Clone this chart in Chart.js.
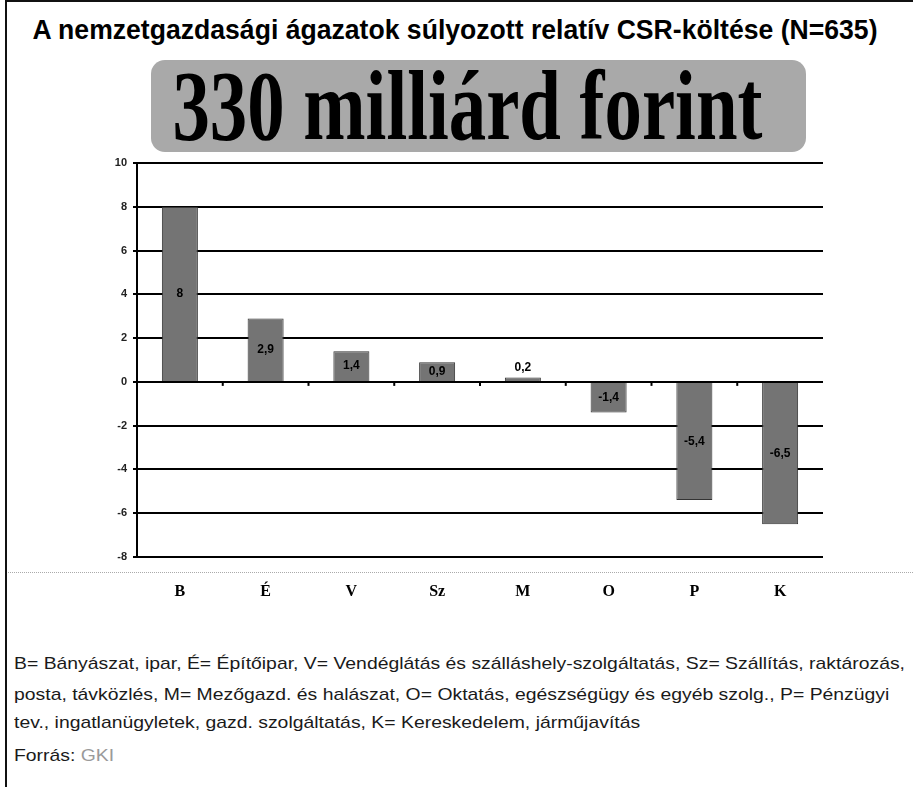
<!DOCTYPE html>
<html>
<head>
<meta charset="utf-8">
<script src="https://cdn.jsdelivr.net/npm/chart.js@4/dist/chart.umd.min.js"></script>
<style>
  html, body { margin:0; padding:0; background:#fff; }
  body { width:913px; height:787px; position:relative; overflow:hidden; font-family:"Liberation Sans", Arial, sans-serif; }
  #frameLeft { position:absolute; left:5px; top:0; width:2px; height:787px; background:#111; }
  #frameTop { position:absolute; left:5px; top:0; width:908px; height:2px; background:#111; }
  #title { position:absolute; left:-1px; top:15px; width:913px; text-align:center; font-weight:bold; font-size:27px; line-height:30px; color:#000; white-space:nowrap; }
  #title span { display:inline-block; transform-origin:center; }
  #banner { position:absolute; left:151px; top:60px; width:655px; height:92px; background:#a9a9a9; border-radius:14px; }
  #bannerText { position:absolute; left:11px; top:60px; width:913px; text-align:center; font-family:"Liberation Serif","Times New Roman",serif; font-weight:bold; font-size:100px; line-height:92px; color:#000; white-space:nowrap; }
  #bannerText span { display:inline-block; transform-origin:center; }
  #chartBox { position:absolute; left:0; top:150px; width:913px; height:470px; }
  #dots { position:absolute; left:8px; top:572px; width:905px; height:0; border-top:1px dotted #aaa; }
  .foot { position:absolute; left:14px; font-size:17px; color:#1a1a1a; white-space:nowrap; transform-origin:left center; }
  .gki { color:#9a9a9a; }
</style>
</head>
<body>
<div id="frameLeft"></div>
<div id="frameTop"></div>
<div id="title"><span id="titleSpan"></span></div>
<div id="banner"></div>
<div id="bannerText"><span id="bannerSpan"></span></div>
<div id="chartBox"><canvas id="c" width="913" height="470"></canvas></div>
<div id="dots"></div>
<div class="foot" id="f1" style="top:654px"></div>
<div class="foot" id="f2" style="top:685px"></div>
<div class="foot" id="f3" style="top:713px"></div>
<div class="foot" id="f4" style="top:746px"></div>
<script>
// ---- data ----
const titleText = "A nemzetgazdasági ágazatok súlyozott relatív CSR-költése (N=635)";
const bannerLabel = "330 milliárd forint";
const categories = ["B", "É", "V", "Sz", "M", "O", "P", "K"];
const values = [8, 2.9, 1.4, 0.9, 0.2, -1.4, -5.4, -6.5];
const valueLabels = ["8", "2,9", "1,4", "0,9", "0,2", "-1,4", "-5,4", "-6,5"];
const yMin = -8;
const yMax = 10;
const yStep = 2;
const footLines = [
  "B= Bányászat, ipar, É= Építőipar, V= Vendéglátás és szálláshely-szolgáltatás, Sz= Szállítás, raktározás,",
  "posta, távközlés, M= Mezőgazd. és halászat, O= Oktatás, egészségügy és egyéb szolg., P= Pénzügyi",
  "tev., ingatlanügyletek, gazd. szolgáltatás, K= Kereskedelem, járműjavítás"
];
const sourceLabel = "Forrás: ";
const sourceName = "GKI";

// ---- text ----
document.getElementById('titleSpan').textContent = titleText;
document.getElementById('bannerSpan').textContent = bannerLabel;
document.getElementById('f1').textContent = footLines[0];
document.getElementById('f2').textContent = footLines[1];
document.getElementById('f3').textContent = footLines[2];
const f4 = document.getElementById('f4');
f4.appendChild(document.createTextNode(sourceLabel));
const g = document.createElement('span'); g.className = 'gki'; g.textContent = sourceName; f4.appendChild(g);

function fitX(el, target) {
  const w = el.getBoundingClientRect().width;
  const s = target / w;
  el.style.transform = 'scaleX(' + s + ')';
  return s;
}
fitX(document.getElementById('titleSpan'), 845);
fitX(document.getElementById('bannerSpan'), 590);
const fs = fitX(document.getElementById('f1'), 891);
['f2','f3','f4'].forEach(id => document.getElementById(id).style.transform = 'scaleX(' + fs + ')');

// ---- chart ----
const labelPlugin = {
  id: 'barLabels',
  afterDatasetsDraw(chart) {
    const ctx = chart.ctx;
    const meta = chart.getDatasetMeta(0);
    ctx.save();
    ctx.font = 'bold 12px "Liberation Sans", Arial, sans-serif';
    ctx.textAlign = 'center';
    ctx.textBaseline = 'middle';
    ctx.fillStyle = '#000';
    meta.data.forEach((bar, i) => {
      const v = values[i];
      let y = (bar.y + bar.base) / 2;
      if (Math.abs(v) < 0.5) y = bar.y - 10;
      ctx.fillText(valueLabels[i], bar.x, y);
    });
    // small tick marks on the zero line between categories
    const xs = chart.scales.x, ys = chart.scales.y;
    const y0 = ys.getPixelForValue(0);
    const n = categories.length;
    ctx.strokeStyle = '#000';
    ctx.lineWidth = 2;
    for (let i = 1; i < n; i++) {
      const x = xs.left + (xs.right - xs.left) * i / n;
      ctx.beginPath(); ctx.moveTo(x, y0); ctx.lineTo(x, y0 + 4); ctx.stroke();
    }
    ctx.restore();
  }
};

new Chart(document.getElementById('c'), {
  type: 'bar',
  data: {
    labels: categories,
    datasets: [{
      data: values,
      backgroundColor: '#747474',
      borderColor: '#333',
      borderWidth: 1,
      barPercentage: 0.42,
      categoryPercentage: 1
    }]
  },
  options: {
    responsive: false,
    animation: false,
    devicePixelRatio: 1,
    layout: { padding: { top: 13, right: 90, left: 0, bottom: 0 } },
    plugins: { legend: { display: false }, tooltip: { enabled: false }, title: { display: false } },
    scales: {
      x: {
        grid: { display: false },
        border: { display: false },
        ticks: { color: '#000', padding: 17, font: { family: '"Liberation Serif", serif', weight: 'bold', size: 16 } },
        afterFit(s) { s.height = 63; }
      },
      y: {
        min: yMin, max: yMax,
        ticks: { stepSize: yStep, color: '#222', padding: 6, font: { family: '"Liberation Sans", Arial, sans-serif', weight: 'bold', size: 11 } },
        grid: { color: '#000', lineWidth: 2, drawTicks: true, tickLength: 4 },
        border: { display: true, color: '#000', width: 2 },
        afterFit(s) { s.width = 137; }
      }
    }
  },
  plugins: [labelPlugin]
});
</script>
</body>
</html>
